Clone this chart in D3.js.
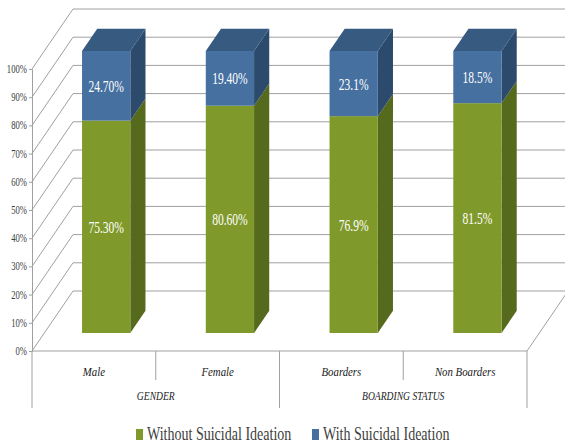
<!DOCTYPE html>
<html>
<head>
<meta charset="utf-8">
<script src="https://cdn.jsdelivr.net/npm/d3@7"></script>
<style>
  html, body { margin: 0; padding: 0; background: #fff; }
  svg { display: block; }
  svg text { font-family: "Liberation Serif", "Tinos", "Noto Serif", "DejaVu Serif", "FreeSerif", "Nimbus Roman", "Times New Roman", Georgia, serif; }
</style>
</head>
<body>
<svg id="chart" width="565" height="446"></svg>
<script>
// Stacked 3-D column chart: suicidal ideation by gender and boarding status
const categories = ["Male", "Female", "Boarders", "Non Boarders"];
const groups = [
  { name: "GENDER", members: ["Male", "Female"] },
  { name: "BOARDING STATUS", members: ["Boarders", "Non Boarders"] }
];
const withoutIdeation = [75.3, 80.6, 76.9, 81.5];
const withIdeation = [24.7, 19.4, 23.1, 18.5];
const withoutLabels = ["75.30%", "80.60%", "76.9%", "81.5%"];
const withLabels = ["24.70%", "19.40%", "23.1%", "18.5%"];
const seriesNames = ["Without Suicidal Ideation", "With Suicidal Ideation"];
const yTicks = [0, 10, 20, 30, 40, 50, 60, 70, 80, 90, 100];

const svg = d3.select("#chart");

// plot frame
const plotLeft = 32, plotRight = 527, plotBottom = 351, plotTop = 69;
const depth = { dx: 41, dy: -60 };        // full depth of the plot box
const barFront = 0.3, barBack = 0.67;     // bar position inside the depth

const x = d3.scaleBand().domain(categories).range([plotLeft, plotRight])
  .paddingInner(0.61).paddingOuter(0.305);
const y = d3.scaleLinear().domain([0, 100]).range([plotBottom, plotTop]);

const colors = {
  green: { front: "#7f9a2b", side: "#566a1e", top: "#6b8424" },
  blue:  { front: "#4570a0", side: "#2c4a6c", top: "#365a80" }
};

const grid = svg.append("g").attr("stroke", "#a0a0a0").attr("stroke-width", 1).attr("fill", "none");

// back wall gridlines and left wall diagonals
yTicks.forEach(t => {
  const yy = y(t);
  grid.append("line")
    .attr("x1", plotLeft + depth.dx).attr("y1", yy + depth.dy)
    .attr("x2", 565).attr("y2", yy + depth.dy);
  grid.append("line")
    .attr("x1", plotLeft).attr("y1", yy)
    .attr("x2", plotLeft + depth.dx).attr("y2", yy + depth.dy);
});
// floor front edge and right edge
grid.append("line").attr("x1", plotLeft).attr("y1", plotBottom).attr("x2", plotRight).attr("y2", plotBottom);
grid.append("line").attr("x1", plotRight).attr("y1", plotBottom)
  .attr("x2", plotRight + depth.dx).attr("y2", plotBottom + depth.dy);

// value axis
const yAxis = d3.axisLeft(y).tickValues(yTicks).tickSize(3).tickFormat(d => d + "%");
const ya = svg.append("g").attr("transform", `translate(${plotLeft},0)`).call(yAxis);
ya.select(".domain").attr("stroke", "#a0a0a0");
ya.selectAll(".tick line").attr("stroke", "#a0a0a0");
ya.selectAll(".tick text").remove();
yTicks.forEach(t => {
  svg.append("text")
    .attr("transform", `translate(${plotLeft - 5},${y(t) + 4}) scale(0.72,1)`)
    .attr("text-anchor", "end")
    .style("font-size", "12px").attr("fill", "#404040")
    .text(t + "%");
});

// category axis dividers
const step = x.step();
const edges = [plotLeft, plotLeft + step, plotLeft + 2 * step, plotLeft + 3 * step, plotRight];
const divBottom = [408, 380, 408, 380, 408];
edges.forEach((ex, i) => {
  grid.append("line").attr("x1", ex).attr("y1", plotBottom).attr("x2", ex).attr("y2", divBottom[i]);
});

// category and group labels
categories.forEach(c => {
  svg.append("text")
    .attr("transform", `translate(${x(c) + x.bandwidth() / 2},${376}) scale(0.9,1)`)
    .attr("text-anchor", "middle")
    .style("font-style", "italic").style("font-size", "12px").attr("fill", "#202020")
    .text(c);
});
groups.forEach(g => {
  const a = x(g.members[0]) - x.step() * x.paddingInner() / 2;
  const b = x(g.members[g.members.length - 1]) + x.bandwidth() + x.step() * x.paddingInner() / 2;
  svg.append("text")
    .attr("transform", `translate(${(a + b) / 2},${400}) scale(0.8,1)`)
    .attr("text-anchor", "middle")
    .style("font-style", "italic").style("font-size", "12px").attr("fill", "#202020")
    .text(g.name);
});

// 3-D bar segment: side, top (optional), front
function prism(g, x0, w, v0, v1, col, withTop) {
  const fx = depth.dx * barFront, fy = depth.dy * barFront;
  const bx = depth.dx * barBack, by = depth.dy * barBack;
  const xl = x0 + fx, xr = x0 + w + fx;
  const y0 = y(v0) + fy, y1 = y(v1) + fy;
  const ddx = bx - fx, ddy = by - fy;
  g.append("path")
    .attr("d", `M${xr},${y0} L${xr + ddx},${y0 + ddy} L${xr + ddx},${y1 + ddy} L${xr},${y1} Z`)
    .attr("fill", col.side);
  if (withTop) {
    g.append("path")
      .attr("d", `M${xl},${y1} L${xl + ddx},${y1 + ddy} L${xr + ddx},${y1 + ddy} L${xr},${y1} Z`)
      .attr("fill", col.top);
  }
  g.append("rect")
    .attr("x", xl).attr("y", y1).attr("width", w).attr("height", y0 - y1)
    .attr("fill", col.front);
  return { cx: xl + w / 2, cy: (y0 + y1) / 2 };
}

function label(text, p) {
  svg.append("text")
    .attr("transform", `translate(${p.cx},${p.cy + 6}) scale(0.68,1)`)
    .attr("text-anchor", "middle")
    .style("font-size", "17px").attr("fill", "#ffffff")
    .text(text);
}

const bars = svg.append("g");
categories.forEach((c, i) => {
  const g = bars.append("g");
  const p1 = prism(g, x(c), x.bandwidth(), 0, withoutIdeation[i], colors.green, false);
  const p2 = prism(g, x(c), x.bandwidth(), withoutIdeation[i], withoutIdeation[i] + withIdeation[i], colors.blue, true);
  label(withoutLabels[i], p1);
  label(withLabels[i], p2);
});

// legend
const legend = svg.append("g");
const legendItems = [
  { name: seriesNames[0], color: colors.green.front, x: 136 },
  { name: seriesNames[1], color: colors.blue.front, x: 312 }
];
legendItems.forEach(it => {
  legend.append("rect").attr("x", it.x).attr("y", 429).attr("width", 7).attr("height", 11)
    .attr("fill", it.color);
  legend.append("text")
    .attr("transform", `translate(${it.x + 11},${440}) scale(0.78,1)`)
    .style("font-size", "18px").attr("fill", "#404040")
    .text(it.name);
});
</script>
</body>
</html>
